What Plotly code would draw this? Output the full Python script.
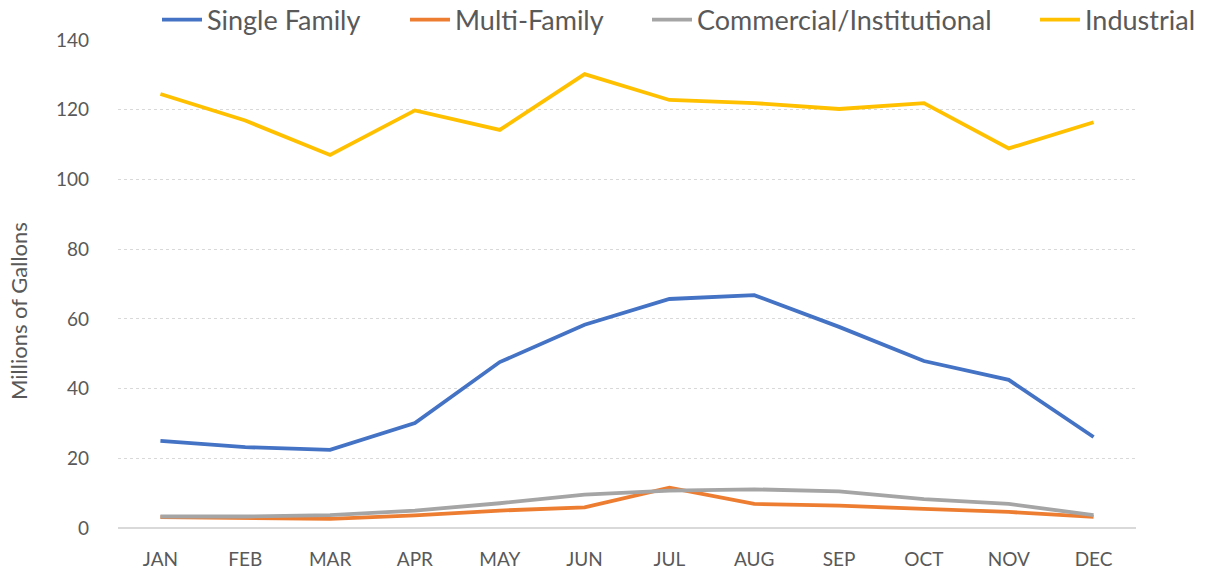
import plotly.graph_objects as go

months = ["JAN", "FEB", "MAR", "APR", "MAY", "JUN", "JUL", "AUG", "SEP", "OCT", "NOV", "DEC"]
single_family = [25.0, 23.2, 22.4, 30.1, 47.6, 58.3, 65.7, 66.8, 57.7, 47.9, 42.5, 26.1]
multi_family = [3.1, 2.9, 2.6, 3.6, 5.0, 5.9, 11.6, 6.9, 6.4, 5.5, 4.6, 3.2]
commercial = [3.3, 3.3, 3.7, 5.0, 7.1, 9.6, 10.7, 11.1, 10.5, 8.3, 6.9, 3.7]
industrial = [124.5, 116.9, 107.0, 119.8, 114.2, 130.2, 122.8, 121.9, 120.2, 121.9, 108.9, 116.4]

series = [
    ("Single Family", single_family, "#4472C4"),
    ("Multi-Family", multi_family, "#ED7D31"),
    ("Commercial/Institutional", commercial, "#A5A5A5"),
    ("Industrial", industrial, "#FFC000"),
]
legend_text_px = [207, 455, 697, 1085]  # x where each legend label starts

FONT = "Lato, Carlito, Calibri, sans-serif"
TXT = "#595959"

W, H = 1206, 574
L, R, T, B = 118, 70, 40, 46
pw, ph = W - L - R, H - T - B

fig = go.Figure()
legend_layouts = {}
for i, (name, vals, color) in enumerate(series):
    lname = "legend" if i == 0 else f"legend{i + 1}"
    fig.add_trace(go.Scatter(x=months, y=vals, name=name, mode="lines",
                             line=dict(color=color, width=3.8), legend=lname))
    fx = legend_text_px[i] - 50
    legend_layouts[lname] = dict(
        orientation="h", x=(fx - L) / pw, xanchor="left",
        y=1 + 20 / ph, yanchor="middle",
        font=dict(size=27, color=TXT, family=FONT), itemwidth=40,
        bgcolor="rgba(0,0,0,0)")

fig.update_layout(
    width=W, height=H,
    margin=dict(l=L, r=R, t=T, b=B, autoexpand=False),
    plot_bgcolor="white", paper_bgcolor="white",
    font=dict(family=FONT, color=TXT, size=19),
    showlegend=True,
    xaxis=dict(showgrid=False, showline=False, ticks="", tickfont=dict(size=19),
               range=[-0.5, 11.5], ticklabelstandoff=18),
    yaxis=dict(range=[0, 140], dtick=20, showgrid=True, gridcolor="#D9D9D9",
               griddash="dot", gridwidth=1, zeroline=True, zerolinecolor="#D9D9D9",
               zerolinewidth=1.5, ticks="", tickfont=dict(size=19), ticklabelstandoff=28),
    annotations=[dict(text="Millions of Gallons", x=(18 - L) / pw, xref="paper",
                      xanchor="center", y=(528 - 311) / ph, yref="paper",
                      yanchor="middle", showarrow=False, textangle=-90,
                      font=dict(size=22, color=TXT))],
    **legend_layouts,
)

fig.write_html("out.html",
               config={"displayModeBar": False, "staticPlot": False},
               post_script="document.body.style.margin='0';document.body.style.overflow='hidden';")
